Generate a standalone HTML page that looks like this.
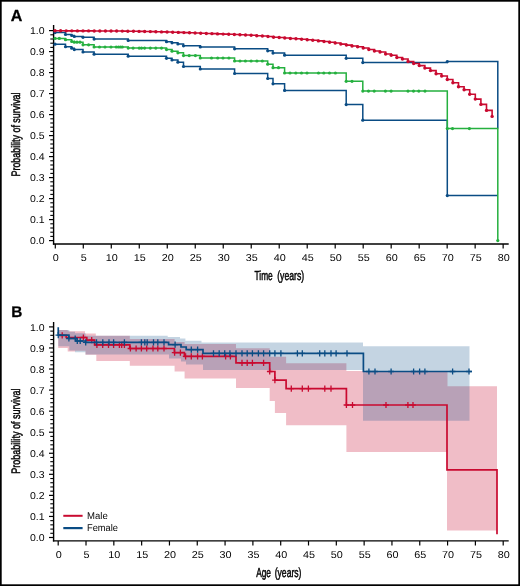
<!DOCTYPE html>
<html><head><meta charset="utf-8"><style>html,body{margin:0;padding:0;background:#fff;}svg{display:block;will-change:transform;}text{font-family:"Liberation Sans", sans-serif;fill:#050505;text-rendering:geometricPrecision;}.t{stroke:#050505;stroke-width:0.5px;}</style></head><body>
<svg width="520" height="586" viewBox="0 0 520 586">
<rect x="0" y="0" width="520" height="586" fill="#fff"/>
<text x="10.8" y="20.9" font-size="16" font-weight="bold" style="fill:#000;stroke:#000;stroke-width:0.3px">A</text>
<line x1="53.6" y1="25" x2="53.6" y2="244.6" stroke="#000" stroke-width="1.4"/>
<line x1="52.9" y1="244" x2="508.7" y2="244" stroke="#000" stroke-width="1.4"/>
<line x1="49" y1="240.6" x2="53.6" y2="240.6" stroke="#000" stroke-width="1.2"/>
<text transform="translate(44.6,244.2) scale(1.05,1)" text-anchor="end" font-size="10">0.0</text>
<line x1="50.3" y1="236.4" x2="53.6" y2="236.4" stroke="#000" stroke-width="1.1"/>
<line x1="50.3" y1="232.2" x2="53.6" y2="232.2" stroke="#000" stroke-width="1.1"/>
<line x1="50.3" y1="228" x2="53.6" y2="228" stroke="#000" stroke-width="1.1"/>
<line x1="50.3" y1="223.8" x2="53.6" y2="223.8" stroke="#000" stroke-width="1.1"/>
<line x1="49" y1="219.6" x2="53.6" y2="219.6" stroke="#000" stroke-width="1.2"/>
<text transform="translate(44.6,223.2) scale(1.05,1)" text-anchor="end" font-size="10">0.1</text>
<line x1="50.3" y1="215.4" x2="53.6" y2="215.4" stroke="#000" stroke-width="1.1"/>
<line x1="50.3" y1="211.2" x2="53.6" y2="211.2" stroke="#000" stroke-width="1.1"/>
<line x1="50.3" y1="207" x2="53.6" y2="207" stroke="#000" stroke-width="1.1"/>
<line x1="50.3" y1="202.8" x2="53.6" y2="202.8" stroke="#000" stroke-width="1.1"/>
<line x1="49" y1="198.6" x2="53.6" y2="198.6" stroke="#000" stroke-width="1.2"/>
<text transform="translate(44.6,202.2) scale(1.05,1)" text-anchor="end" font-size="10">0.2</text>
<line x1="50.3" y1="194.4" x2="53.6" y2="194.4" stroke="#000" stroke-width="1.1"/>
<line x1="50.3" y1="190.2" x2="53.6" y2="190.2" stroke="#000" stroke-width="1.1"/>
<line x1="50.3" y1="186" x2="53.6" y2="186" stroke="#000" stroke-width="1.1"/>
<line x1="50.3" y1="181.8" x2="53.6" y2="181.8" stroke="#000" stroke-width="1.1"/>
<line x1="49" y1="177.6" x2="53.6" y2="177.6" stroke="#000" stroke-width="1.2"/>
<text transform="translate(44.6,181.2) scale(1.05,1)" text-anchor="end" font-size="10">0.3</text>
<line x1="50.3" y1="173.4" x2="53.6" y2="173.4" stroke="#000" stroke-width="1.1"/>
<line x1="50.3" y1="169.2" x2="53.6" y2="169.2" stroke="#000" stroke-width="1.1"/>
<line x1="50.3" y1="165" x2="53.6" y2="165" stroke="#000" stroke-width="1.1"/>
<line x1="50.3" y1="160.8" x2="53.6" y2="160.8" stroke="#000" stroke-width="1.1"/>
<line x1="49" y1="156.6" x2="53.6" y2="156.6" stroke="#000" stroke-width="1.2"/>
<text transform="translate(44.6,160.2) scale(1.05,1)" text-anchor="end" font-size="10">0.4</text>
<line x1="50.3" y1="152.4" x2="53.6" y2="152.4" stroke="#000" stroke-width="1.1"/>
<line x1="50.3" y1="148.2" x2="53.6" y2="148.2" stroke="#000" stroke-width="1.1"/>
<line x1="50.3" y1="144" x2="53.6" y2="144" stroke="#000" stroke-width="1.1"/>
<line x1="50.3" y1="139.8" x2="53.6" y2="139.8" stroke="#000" stroke-width="1.1"/>
<line x1="49" y1="135.6" x2="53.6" y2="135.6" stroke="#000" stroke-width="1.2"/>
<text transform="translate(44.6,139.2) scale(1.05,1)" text-anchor="end" font-size="10">0.5</text>
<line x1="50.3" y1="131.4" x2="53.6" y2="131.4" stroke="#000" stroke-width="1.1"/>
<line x1="50.3" y1="127.2" x2="53.6" y2="127.2" stroke="#000" stroke-width="1.1"/>
<line x1="50.3" y1="123" x2="53.6" y2="123" stroke="#000" stroke-width="1.1"/>
<line x1="50.3" y1="118.8" x2="53.6" y2="118.8" stroke="#000" stroke-width="1.1"/>
<line x1="49" y1="114.6" x2="53.6" y2="114.6" stroke="#000" stroke-width="1.2"/>
<text transform="translate(44.6,118.2) scale(1.05,1)" text-anchor="end" font-size="10">0.6</text>
<line x1="50.3" y1="110.4" x2="53.6" y2="110.4" stroke="#000" stroke-width="1.1"/>
<line x1="50.3" y1="106.2" x2="53.6" y2="106.2" stroke="#000" stroke-width="1.1"/>
<line x1="50.3" y1="102" x2="53.6" y2="102" stroke="#000" stroke-width="1.1"/>
<line x1="50.3" y1="97.8" x2="53.6" y2="97.8" stroke="#000" stroke-width="1.1"/>
<line x1="49" y1="93.6" x2="53.6" y2="93.6" stroke="#000" stroke-width="1.2"/>
<text transform="translate(44.6,97.2) scale(1.05,1)" text-anchor="end" font-size="10">0.7</text>
<line x1="50.3" y1="89.4" x2="53.6" y2="89.4" stroke="#000" stroke-width="1.1"/>
<line x1="50.3" y1="85.2" x2="53.6" y2="85.2" stroke="#000" stroke-width="1.1"/>
<line x1="50.3" y1="81" x2="53.6" y2="81" stroke="#000" stroke-width="1.1"/>
<line x1="50.3" y1="76.8" x2="53.6" y2="76.8" stroke="#000" stroke-width="1.1"/>
<line x1="49" y1="72.6" x2="53.6" y2="72.6" stroke="#000" stroke-width="1.2"/>
<text transform="translate(44.6,76.2) scale(1.05,1)" text-anchor="end" font-size="10">0.8</text>
<line x1="50.3" y1="68.4" x2="53.6" y2="68.4" stroke="#000" stroke-width="1.1"/>
<line x1="50.3" y1="64.2" x2="53.6" y2="64.2" stroke="#000" stroke-width="1.1"/>
<line x1="50.3" y1="60" x2="53.6" y2="60" stroke="#000" stroke-width="1.1"/>
<line x1="50.3" y1="55.8" x2="53.6" y2="55.8" stroke="#000" stroke-width="1.1"/>
<line x1="49" y1="51.6" x2="53.6" y2="51.6" stroke="#000" stroke-width="1.2"/>
<text transform="translate(44.6,55.2) scale(1.05,1)" text-anchor="end" font-size="10">0.9</text>
<line x1="50.3" y1="47.4" x2="53.6" y2="47.4" stroke="#000" stroke-width="1.1"/>
<line x1="50.3" y1="43.2" x2="53.6" y2="43.2" stroke="#000" stroke-width="1.1"/>
<line x1="50.3" y1="39" x2="53.6" y2="39" stroke="#000" stroke-width="1.1"/>
<line x1="50.3" y1="34.8" x2="53.6" y2="34.8" stroke="#000" stroke-width="1.1"/>
<line x1="49" y1="30.6" x2="53.6" y2="30.6" stroke="#000" stroke-width="1.2"/>
<text transform="translate(44.6,34.2) scale(1.05,1)" text-anchor="end" font-size="10">1.0</text>
<line x1="55.3" y1="244" x2="55.3" y2="248.6" stroke="#000" stroke-width="1.2"/>
<text transform="translate(55.8,261) scale(1.08,1)" text-anchor="middle" font-size="10">0</text>
<line x1="83.29" y1="244" x2="83.29" y2="248.6" stroke="#000" stroke-width="1.2"/>
<text transform="translate(83.79,261) scale(1.08,1)" text-anchor="middle" font-size="10">5</text>
<line x1="111.28" y1="244" x2="111.28" y2="248.6" stroke="#000" stroke-width="1.2"/>
<text transform="translate(111.78,261) scale(1.08,1)" text-anchor="middle" font-size="10">10</text>
<line x1="139.27" y1="244" x2="139.27" y2="248.6" stroke="#000" stroke-width="1.2"/>
<text transform="translate(139.77,261) scale(1.08,1)" text-anchor="middle" font-size="10">15</text>
<line x1="167.26" y1="244" x2="167.26" y2="248.6" stroke="#000" stroke-width="1.2"/>
<text transform="translate(167.76,261) scale(1.08,1)" text-anchor="middle" font-size="10">20</text>
<line x1="195.25" y1="244" x2="195.25" y2="248.6" stroke="#000" stroke-width="1.2"/>
<text transform="translate(195.75,261) scale(1.08,1)" text-anchor="middle" font-size="10">25</text>
<line x1="223.24" y1="244" x2="223.24" y2="248.6" stroke="#000" stroke-width="1.2"/>
<text transform="translate(223.74,261) scale(1.08,1)" text-anchor="middle" font-size="10">30</text>
<line x1="251.23" y1="244" x2="251.23" y2="248.6" stroke="#000" stroke-width="1.2"/>
<text transform="translate(251.73,261) scale(1.08,1)" text-anchor="middle" font-size="10">35</text>
<line x1="279.22" y1="244" x2="279.22" y2="248.6" stroke="#000" stroke-width="1.2"/>
<text transform="translate(279.72,261) scale(1.08,1)" text-anchor="middle" font-size="10">40</text>
<line x1="307.21" y1="244" x2="307.21" y2="248.6" stroke="#000" stroke-width="1.2"/>
<text transform="translate(307.71,261) scale(1.08,1)" text-anchor="middle" font-size="10">45</text>
<line x1="335.2" y1="244" x2="335.2" y2="248.6" stroke="#000" stroke-width="1.2"/>
<text transform="translate(335.7,261) scale(1.08,1)" text-anchor="middle" font-size="10">50</text>
<line x1="363.19" y1="244" x2="363.19" y2="248.6" stroke="#000" stroke-width="1.2"/>
<text transform="translate(363.69,261) scale(1.08,1)" text-anchor="middle" font-size="10">55</text>
<line x1="391.18" y1="244" x2="391.18" y2="248.6" stroke="#000" stroke-width="1.2"/>
<text transform="translate(391.68,261) scale(1.08,1)" text-anchor="middle" font-size="10">60</text>
<line x1="419.17" y1="244" x2="419.17" y2="248.6" stroke="#000" stroke-width="1.2"/>
<text transform="translate(419.67,261) scale(1.08,1)" text-anchor="middle" font-size="10">65</text>
<line x1="447.16" y1="244" x2="447.16" y2="248.6" stroke="#000" stroke-width="1.2"/>
<text transform="translate(447.66,261) scale(1.08,1)" text-anchor="middle" font-size="10">70</text>
<line x1="475.15" y1="244" x2="475.15" y2="248.6" stroke="#000" stroke-width="1.2"/>
<text transform="translate(475.65,261) scale(1.08,1)" text-anchor="middle" font-size="10">75</text>
<line x1="503.14" y1="244" x2="503.14" y2="248.6" stroke="#000" stroke-width="1.2"/>
<text transform="translate(503.64,261) scale(1.08,1)" text-anchor="middle" font-size="10">80</text>
<text x="254.5" y="279.6" font-size="13" class="t" textLength="18.2" lengthAdjust="spacingAndGlyphs">Time</text>
<text x="277.2" y="279.6" font-size="13" class="t" textLength="27" lengthAdjust="spacingAndGlyphs">(years)</text>
<text transform="translate(20.2,134.5) rotate(-90)" x="0" y="0" text-anchor="middle" font-size="12.3" class="t" textLength="84" lengthAdjust="spacingAndGlyphs">Probability of survival</text>
<path d="M55 32.6H65.5V34.5H71.7V35.5H74.3V36.5H83V37.3H94.1V39.1H128.2V40.5H166.5V41.7H172V42.8H177.9V44H183.5V45.8H200.3V46.9H234.6V48.8H267.7V50.8H273V53.1H284.6V55.2H346.2V58.3H362.8V62.6H447.3V61.6H497.8V128.6" fill="none" stroke="#0a4c84" stroke-width="1.5"/>
<path d="M55 44.2H65.5V46.75H71.7V48.2H74.3V49.6H83V52H94.1V54.2H128.2V56.2H166.5V58.3H172V60H177.9V62.2H183.5V66.5H200.3V69H234.6V73.5H267.7V78.5H273V83.8H284.6V90.4H346.2V104.6H362.8V120.2H447.3V195.6H497.8" fill="none" stroke="#0a4c84" stroke-width="1.5"/>
<circle cx="55" cy="32.6" r="1.6" fill="#0a4c84"/><circle cx="65.5" cy="34.5" r="1.6" fill="#0a4c84"/><circle cx="71.7" cy="35.5" r="1.6" fill="#0a4c84"/><circle cx="74.3" cy="36.5" r="1.6" fill="#0a4c84"/><circle cx="83" cy="37.3" r="1.6" fill="#0a4c84"/><circle cx="94.1" cy="39.1" r="1.6" fill="#0a4c84"/><circle cx="128.2" cy="40.5" r="1.6" fill="#0a4c84"/><circle cx="166.5" cy="41.7" r="1.6" fill="#0a4c84"/><circle cx="172" cy="42.8" r="1.6" fill="#0a4c84"/><circle cx="177.9" cy="44" r="1.6" fill="#0a4c84"/><circle cx="183.5" cy="45.8" r="1.6" fill="#0a4c84"/><circle cx="200.3" cy="46.9" r="1.6" fill="#0a4c84"/><circle cx="234.6" cy="48.8" r="1.6" fill="#0a4c84"/><circle cx="267.7" cy="50.8" r="1.6" fill="#0a4c84"/><circle cx="273" cy="53.1" r="1.6" fill="#0a4c84"/><circle cx="284.6" cy="55.2" r="1.6" fill="#0a4c84"/><circle cx="346.2" cy="58.3" r="1.6" fill="#0a4c84"/><circle cx="362.8" cy="62.6" r="1.6" fill="#0a4c84"/><circle cx="447.3" cy="61.6" r="1.6" fill="#0a4c84"/><circle cx="55" cy="44.2" r="1.6" fill="#0a4c84"/><circle cx="65.5" cy="46.75" r="1.6" fill="#0a4c84"/><circle cx="71.7" cy="48.2" r="1.6" fill="#0a4c84"/><circle cx="74.3" cy="49.6" r="1.6" fill="#0a4c84"/><circle cx="83" cy="52" r="1.6" fill="#0a4c84"/><circle cx="94.1" cy="54.2" r="1.6" fill="#0a4c84"/><circle cx="128.2" cy="56.2" r="1.6" fill="#0a4c84"/><circle cx="166.5" cy="58.3" r="1.6" fill="#0a4c84"/><circle cx="172" cy="60" r="1.6" fill="#0a4c84"/><circle cx="177.9" cy="62.2" r="1.6" fill="#0a4c84"/><circle cx="183.5" cy="66.5" r="1.6" fill="#0a4c84"/><circle cx="200.3" cy="69" r="1.6" fill="#0a4c84"/><circle cx="234.6" cy="73.5" r="1.6" fill="#0a4c84"/><circle cx="267.7" cy="78.5" r="1.6" fill="#0a4c84"/><circle cx="273" cy="83.8" r="1.6" fill="#0a4c84"/><circle cx="284.6" cy="90.4" r="1.6" fill="#0a4c84"/><circle cx="346.2" cy="104.6" r="1.6" fill="#0a4c84"/><circle cx="362.8" cy="120.2" r="1.6" fill="#0a4c84"/><circle cx="447.3" cy="195.6" r="1.6" fill="#0a4c84"/>
<path d="M55 38.4H65.5V39.7H71.7V41.5H74.3V42.2H83V44.8H94.1V47H128.2V48.1H166.5V49.6H172V51.2H177.9V52.8H183.5V55.6H200.3V58H234.6V61H267.7V64.2H273V67.7H284.6V73H346.2V81.3H362.8V91.1H447.3V128.6H497.8V240.6" fill="none" stroke="#25b03f" stroke-width="1.5"/>
<circle cx="55" cy="38.4" r="1.6" fill="#25b03f"/><circle cx="65.5" cy="39.7" r="1.6" fill="#25b03f"/><circle cx="71.7" cy="41.5" r="1.6" fill="#25b03f"/><circle cx="74.3" cy="42.2" r="1.6" fill="#25b03f"/><circle cx="83" cy="44.8" r="1.6" fill="#25b03f"/><circle cx="94.1" cy="47" r="1.6" fill="#25b03f"/><circle cx="128.2" cy="48.1" r="1.6" fill="#25b03f"/><circle cx="166.5" cy="49.6" r="1.6" fill="#25b03f"/><circle cx="172" cy="51.2" r="1.6" fill="#25b03f"/><circle cx="177.9" cy="52.8" r="1.6" fill="#25b03f"/><circle cx="183.5" cy="55.6" r="1.6" fill="#25b03f"/><circle cx="200.3" cy="58" r="1.6" fill="#25b03f"/><circle cx="234.6" cy="61" r="1.6" fill="#25b03f"/><circle cx="267.7" cy="64.2" r="1.6" fill="#25b03f"/><circle cx="273" cy="67.7" r="1.6" fill="#25b03f"/><circle cx="284.6" cy="73" r="1.6" fill="#25b03f"/><circle cx="346.2" cy="81.3" r="1.6" fill="#25b03f"/><circle cx="362.8" cy="91.1" r="1.6" fill="#25b03f"/><circle cx="447.3" cy="128.6" r="1.6" fill="#25b03f"/><circle cx="497.8" cy="240.6" r="1.6" fill="#25b03f"/><circle cx="59.3" cy="38.4" r="1.6" fill="#25b03f"/><circle cx="77" cy="42.2" r="1.6" fill="#25b03f"/><circle cx="80" cy="42.2" r="1.6" fill="#25b03f"/><circle cx="88.6" cy="44.8" r="1.6" fill="#25b03f"/><circle cx="99.5" cy="47" r="1.6" fill="#25b03f"/><circle cx="105" cy="47" r="1.6" fill="#25b03f"/><circle cx="111" cy="47" r="1.6" fill="#25b03f"/><circle cx="116.2" cy="47" r="1.6" fill="#25b03f"/><circle cx="118.5" cy="47" r="1.6" fill="#25b03f"/><circle cx="120.5" cy="47" r="1.6" fill="#25b03f"/><circle cx="122.3" cy="47" r="1.6" fill="#25b03f"/><circle cx="133.1" cy="48.1" r="1.6" fill="#25b03f"/><circle cx="139.2" cy="48.1" r="1.6" fill="#25b03f"/><circle cx="141.5" cy="48.1" r="1.6" fill="#25b03f"/><circle cx="144.6" cy="48.1" r="1.6" fill="#25b03f"/><circle cx="150.3" cy="48.1" r="1.6" fill="#25b03f"/><circle cx="155.8" cy="48.1" r="1.6" fill="#25b03f"/><circle cx="161.5" cy="48.1" r="1.6" fill="#25b03f"/><circle cx="189.2" cy="55.6" r="1.6" fill="#25b03f"/><circle cx="195.4" cy="55.6" r="1.6" fill="#25b03f"/><circle cx="211.5" cy="58" r="1.6" fill="#25b03f"/><circle cx="217.7" cy="58" r="1.6" fill="#25b03f"/><circle cx="223" cy="58" r="1.6" fill="#25b03f"/><circle cx="228.9" cy="58" r="1.6" fill="#25b03f"/><circle cx="240" cy="61" r="1.6" fill="#25b03f"/><circle cx="245.4" cy="61" r="1.6" fill="#25b03f"/><circle cx="251.1" cy="61" r="1.6" fill="#25b03f"/><circle cx="256.9" cy="61" r="1.6" fill="#25b03f"/><circle cx="262.3" cy="61" r="1.6" fill="#25b03f"/><circle cx="278.5" cy="67.7" r="1.6" fill="#25b03f"/><circle cx="290" cy="73" r="1.6" fill="#25b03f"/><circle cx="295.8" cy="73" r="1.6" fill="#25b03f"/><circle cx="301.5" cy="73" r="1.6" fill="#25b03f"/><circle cx="307" cy="73" r="1.6" fill="#25b03f"/><circle cx="318.5" cy="73" r="1.6" fill="#25b03f"/><circle cx="323.8" cy="73" r="1.6" fill="#25b03f"/><circle cx="329.5" cy="73" r="1.6" fill="#25b03f"/><circle cx="335.4" cy="73" r="1.6" fill="#25b03f"/><circle cx="352" cy="81.3" r="1.6" fill="#25b03f"/><circle cx="368.5" cy="91.1" r="1.6" fill="#25b03f"/><circle cx="374.2" cy="91.1" r="1.6" fill="#25b03f"/><circle cx="385.4" cy="91.1" r="1.6" fill="#25b03f"/><circle cx="391.1" cy="91.1" r="1.6" fill="#25b03f"/><circle cx="408" cy="91.1" r="1.6" fill="#25b03f"/><circle cx="413.5" cy="91.1" r="1.6" fill="#25b03f"/><circle cx="418.8" cy="91.1" r="1.6" fill="#25b03f"/><circle cx="425" cy="91.1" r="1.6" fill="#25b03f"/><circle cx="452.5" cy="128.6" r="1.6" fill="#25b03f"/><circle cx="469.4" cy="128.6" r="1.6" fill="#25b03f"/>
<path d="M55 30.8H60.6V30.82H66.21V30.84H71.81V30.86H77.42V30.88H83.02V30.9H88.62V30.92H94.23V30.94H99.83V30.96H105.44V30.98H111.04V31H116.64V31.06H122.25V31.12H127.85V31.19H133.46V31.25H139.06V31.38H144.66V31.5H150.27V31.62H155.87V31.75H161.48V31.88H167.08V32H172.68V32.2H178.29V32.4H183.89V32.6H189.5V32.8H195.1V33.02H200.7V33.23H206.31V33.45H211.91V33.67H217.52V33.88H223.12V34.1H228.72V34.32H234.33V34.54H239.93V34.76H245.54V34.98H251.14V35.2H256.74V35.7H262.35V36H267.95V36.5H273.56V37.2H279.16V37.5H284.76V38H290.37V38.5H295.97V38.8H301.58V39.2H307.18V39.7H312.78V40.3H318.39V40.9H323.99V41.45H329.6V42.2H335.2V43H340.8V44.1H346.41V45.1H352.01V46H357.62V46.75H363.22V48H368.82V49.5H374.43V51H380.03V52H385.64V54H391.24V55.25H396.84V57.5H402.45V59H408.05V61.5H413.66V63.5H419.26V65.6H424.86V68.1H430.47V70.6H436.07V73.75H441.68V76H447.28V79.5H452.88V82.7H458.49V86.7H464.09V89.8H469.7V94.2H475.3V99.1H480.9V104.4H486.51V110.4H492.11V116.4" fill="none" stroke="#c90a30" stroke-width="1.6"/>
<circle cx="55" cy="30.8" r="1.7" fill="#c90a30"/><circle cx="60.6" cy="30.82" r="1.7" fill="#c90a30"/><circle cx="66.21" cy="30.84" r="1.7" fill="#c90a30"/><circle cx="71.81" cy="30.86" r="1.7" fill="#c90a30"/><circle cx="77.42" cy="30.88" r="1.7" fill="#c90a30"/><circle cx="83.02" cy="30.9" r="1.7" fill="#c90a30"/><circle cx="88.62" cy="30.92" r="1.7" fill="#c90a30"/><circle cx="94.23" cy="30.94" r="1.7" fill="#c90a30"/><circle cx="99.83" cy="30.96" r="1.7" fill="#c90a30"/><circle cx="105.44" cy="30.98" r="1.7" fill="#c90a30"/><circle cx="111.04" cy="31" r="1.7" fill="#c90a30"/><circle cx="116.64" cy="31.06" r="1.7" fill="#c90a30"/><circle cx="122.25" cy="31.12" r="1.7" fill="#c90a30"/><circle cx="127.85" cy="31.19" r="1.7" fill="#c90a30"/><circle cx="133.46" cy="31.25" r="1.7" fill="#c90a30"/><circle cx="139.06" cy="31.38" r="1.7" fill="#c90a30"/><circle cx="144.66" cy="31.5" r="1.7" fill="#c90a30"/><circle cx="150.27" cy="31.62" r="1.7" fill="#c90a30"/><circle cx="155.87" cy="31.75" r="1.7" fill="#c90a30"/><circle cx="161.48" cy="31.88" r="1.7" fill="#c90a30"/><circle cx="167.08" cy="32" r="1.7" fill="#c90a30"/><circle cx="172.68" cy="32.2" r="1.7" fill="#c90a30"/><circle cx="178.29" cy="32.4" r="1.7" fill="#c90a30"/><circle cx="183.89" cy="32.6" r="1.7" fill="#c90a30"/><circle cx="189.5" cy="32.8" r="1.7" fill="#c90a30"/><circle cx="195.1" cy="33.02" r="1.7" fill="#c90a30"/><circle cx="200.7" cy="33.23" r="1.7" fill="#c90a30"/><circle cx="206.31" cy="33.45" r="1.7" fill="#c90a30"/><circle cx="211.91" cy="33.67" r="1.7" fill="#c90a30"/><circle cx="217.52" cy="33.88" r="1.7" fill="#c90a30"/><circle cx="223.12" cy="34.1" r="1.7" fill="#c90a30"/><circle cx="228.72" cy="34.32" r="1.7" fill="#c90a30"/><circle cx="234.33" cy="34.54" r="1.7" fill="#c90a30"/><circle cx="239.93" cy="34.76" r="1.7" fill="#c90a30"/><circle cx="245.54" cy="34.98" r="1.7" fill="#c90a30"/><circle cx="251.14" cy="35.2" r="1.7" fill="#c90a30"/><circle cx="256.74" cy="35.7" r="1.7" fill="#c90a30"/><circle cx="262.35" cy="36" r="1.7" fill="#c90a30"/><circle cx="267.95" cy="36.5" r="1.7" fill="#c90a30"/><circle cx="273.56" cy="37.2" r="1.7" fill="#c90a30"/><circle cx="279.16" cy="37.5" r="1.7" fill="#c90a30"/><circle cx="284.76" cy="38" r="1.7" fill="#c90a30"/><circle cx="290.37" cy="38.5" r="1.7" fill="#c90a30"/><circle cx="295.97" cy="38.8" r="1.7" fill="#c90a30"/><circle cx="301.58" cy="39.2" r="1.7" fill="#c90a30"/><circle cx="307.18" cy="39.7" r="1.7" fill="#c90a30"/><circle cx="312.78" cy="40.3" r="1.7" fill="#c90a30"/><circle cx="318.39" cy="40.9" r="1.7" fill="#c90a30"/><circle cx="323.99" cy="41.45" r="1.7" fill="#c90a30"/><circle cx="329.6" cy="42.2" r="1.7" fill="#c90a30"/><circle cx="335.2" cy="43" r="1.7" fill="#c90a30"/><circle cx="340.8" cy="44.1" r="1.7" fill="#c90a30"/><circle cx="346.41" cy="45.1" r="1.7" fill="#c90a30"/><circle cx="352.01" cy="46" r="1.7" fill="#c90a30"/><circle cx="357.62" cy="46.75" r="1.7" fill="#c90a30"/><circle cx="363.22" cy="48" r="1.7" fill="#c90a30"/><circle cx="368.82" cy="49.5" r="1.7" fill="#c90a30"/><circle cx="374.43" cy="51" r="1.7" fill="#c90a30"/><circle cx="380.03" cy="52" r="1.7" fill="#c90a30"/><circle cx="385.64" cy="54" r="1.7" fill="#c90a30"/><circle cx="391.24" cy="55.25" r="1.7" fill="#c90a30"/><circle cx="396.84" cy="57.5" r="1.7" fill="#c90a30"/><circle cx="402.45" cy="59" r="1.7" fill="#c90a30"/><circle cx="408.05" cy="61.5" r="1.7" fill="#c90a30"/><circle cx="413.66" cy="63.5" r="1.7" fill="#c90a30"/><circle cx="419.26" cy="65.6" r="1.7" fill="#c90a30"/><circle cx="424.86" cy="68.1" r="1.7" fill="#c90a30"/><circle cx="430.47" cy="70.6" r="1.7" fill="#c90a30"/><circle cx="436.07" cy="73.75" r="1.7" fill="#c90a30"/><circle cx="441.68" cy="76" r="1.7" fill="#c90a30"/><circle cx="447.28" cy="79.5" r="1.7" fill="#c90a30"/><circle cx="452.88" cy="82.7" r="1.7" fill="#c90a30"/><circle cx="458.49" cy="86.7" r="1.7" fill="#c90a30"/><circle cx="464.09" cy="89.8" r="1.7" fill="#c90a30"/><circle cx="469.7" cy="94.2" r="1.7" fill="#c90a30"/><circle cx="475.3" cy="99.1" r="1.7" fill="#c90a30"/><circle cx="480.9" cy="104.4" r="1.7" fill="#c90a30"/><circle cx="486.51" cy="110.4" r="1.7" fill="#c90a30"/><circle cx="492.11" cy="116.4" r="1.7" fill="#c90a30"/>
<text x="11.3" y="317.4" font-size="15.4" font-weight="bold" style="fill:#000;stroke:#000;stroke-width:0.25px">B</text>
<line x1="53.6" y1="322" x2="53.6" y2="541.5" stroke="#000" stroke-width="1.4"/>
<line x1="52.9" y1="540.9" x2="508.7" y2="540.9" stroke="#000" stroke-width="1.4"/>
<line x1="49" y1="537.5" x2="53.6" y2="537.5" stroke="#000" stroke-width="1.2"/>
<text transform="translate(44.6,541.1) scale(1.05,1)" text-anchor="end" font-size="10">0.0</text>
<line x1="50.3" y1="533.29" x2="53.6" y2="533.29" stroke="#000" stroke-width="1.1"/>
<line x1="50.3" y1="529.08" x2="53.6" y2="529.08" stroke="#000" stroke-width="1.1"/>
<line x1="50.3" y1="524.86" x2="53.6" y2="524.86" stroke="#000" stroke-width="1.1"/>
<line x1="50.3" y1="520.65" x2="53.6" y2="520.65" stroke="#000" stroke-width="1.1"/>
<line x1="49" y1="516.44" x2="53.6" y2="516.44" stroke="#000" stroke-width="1.2"/>
<text transform="translate(44.6,520.04) scale(1.05,1)" text-anchor="end" font-size="10">0.1</text>
<line x1="50.3" y1="512.23" x2="53.6" y2="512.23" stroke="#000" stroke-width="1.1"/>
<line x1="50.3" y1="508.02" x2="53.6" y2="508.02" stroke="#000" stroke-width="1.1"/>
<line x1="50.3" y1="503.8" x2="53.6" y2="503.8" stroke="#000" stroke-width="1.1"/>
<line x1="50.3" y1="499.59" x2="53.6" y2="499.59" stroke="#000" stroke-width="1.1"/>
<line x1="49" y1="495.38" x2="53.6" y2="495.38" stroke="#000" stroke-width="1.2"/>
<text transform="translate(44.6,498.98) scale(1.05,1)" text-anchor="end" font-size="10">0.2</text>
<line x1="50.3" y1="491.17" x2="53.6" y2="491.17" stroke="#000" stroke-width="1.1"/>
<line x1="50.3" y1="486.96" x2="53.6" y2="486.96" stroke="#000" stroke-width="1.1"/>
<line x1="50.3" y1="482.74" x2="53.6" y2="482.74" stroke="#000" stroke-width="1.1"/>
<line x1="50.3" y1="478.53" x2="53.6" y2="478.53" stroke="#000" stroke-width="1.1"/>
<line x1="49" y1="474.32" x2="53.6" y2="474.32" stroke="#000" stroke-width="1.2"/>
<text transform="translate(44.6,477.92) scale(1.05,1)" text-anchor="end" font-size="10">0.3</text>
<line x1="50.3" y1="470.11" x2="53.6" y2="470.11" stroke="#000" stroke-width="1.1"/>
<line x1="50.3" y1="465.9" x2="53.6" y2="465.9" stroke="#000" stroke-width="1.1"/>
<line x1="50.3" y1="461.68" x2="53.6" y2="461.68" stroke="#000" stroke-width="1.1"/>
<line x1="50.3" y1="457.47" x2="53.6" y2="457.47" stroke="#000" stroke-width="1.1"/>
<line x1="49" y1="453.26" x2="53.6" y2="453.26" stroke="#000" stroke-width="1.2"/>
<text transform="translate(44.6,456.86) scale(1.05,1)" text-anchor="end" font-size="10">0.4</text>
<line x1="50.3" y1="449.05" x2="53.6" y2="449.05" stroke="#000" stroke-width="1.1"/>
<line x1="50.3" y1="444.84" x2="53.6" y2="444.84" stroke="#000" stroke-width="1.1"/>
<line x1="50.3" y1="440.62" x2="53.6" y2="440.62" stroke="#000" stroke-width="1.1"/>
<line x1="50.3" y1="436.41" x2="53.6" y2="436.41" stroke="#000" stroke-width="1.1"/>
<line x1="49" y1="432.2" x2="53.6" y2="432.2" stroke="#000" stroke-width="1.2"/>
<text transform="translate(44.6,435.8) scale(1.05,1)" text-anchor="end" font-size="10">0.5</text>
<line x1="50.3" y1="427.99" x2="53.6" y2="427.99" stroke="#000" stroke-width="1.1"/>
<line x1="50.3" y1="423.78" x2="53.6" y2="423.78" stroke="#000" stroke-width="1.1"/>
<line x1="50.3" y1="419.56" x2="53.6" y2="419.56" stroke="#000" stroke-width="1.1"/>
<line x1="50.3" y1="415.35" x2="53.6" y2="415.35" stroke="#000" stroke-width="1.1"/>
<line x1="49" y1="411.14" x2="53.6" y2="411.14" stroke="#000" stroke-width="1.2"/>
<text transform="translate(44.6,414.74) scale(1.05,1)" text-anchor="end" font-size="10">0.6</text>
<line x1="50.3" y1="406.93" x2="53.6" y2="406.93" stroke="#000" stroke-width="1.1"/>
<line x1="50.3" y1="402.72" x2="53.6" y2="402.72" stroke="#000" stroke-width="1.1"/>
<line x1="50.3" y1="398.5" x2="53.6" y2="398.5" stroke="#000" stroke-width="1.1"/>
<line x1="50.3" y1="394.29" x2="53.6" y2="394.29" stroke="#000" stroke-width="1.1"/>
<line x1="49" y1="390.08" x2="53.6" y2="390.08" stroke="#000" stroke-width="1.2"/>
<text transform="translate(44.6,393.68) scale(1.05,1)" text-anchor="end" font-size="10">0.7</text>
<line x1="50.3" y1="385.87" x2="53.6" y2="385.87" stroke="#000" stroke-width="1.1"/>
<line x1="50.3" y1="381.66" x2="53.6" y2="381.66" stroke="#000" stroke-width="1.1"/>
<line x1="50.3" y1="377.44" x2="53.6" y2="377.44" stroke="#000" stroke-width="1.1"/>
<line x1="50.3" y1="373.23" x2="53.6" y2="373.23" stroke="#000" stroke-width="1.1"/>
<line x1="49" y1="369.02" x2="53.6" y2="369.02" stroke="#000" stroke-width="1.2"/>
<text transform="translate(44.6,372.62) scale(1.05,1)" text-anchor="end" font-size="10">0.8</text>
<line x1="50.3" y1="364.81" x2="53.6" y2="364.81" stroke="#000" stroke-width="1.1"/>
<line x1="50.3" y1="360.6" x2="53.6" y2="360.6" stroke="#000" stroke-width="1.1"/>
<line x1="50.3" y1="356.38" x2="53.6" y2="356.38" stroke="#000" stroke-width="1.1"/>
<line x1="50.3" y1="352.17" x2="53.6" y2="352.17" stroke="#000" stroke-width="1.1"/>
<line x1="49" y1="347.96" x2="53.6" y2="347.96" stroke="#000" stroke-width="1.2"/>
<text transform="translate(44.6,351.56) scale(1.05,1)" text-anchor="end" font-size="10">0.9</text>
<line x1="50.3" y1="343.75" x2="53.6" y2="343.75" stroke="#000" stroke-width="1.1"/>
<line x1="50.3" y1="339.54" x2="53.6" y2="339.54" stroke="#000" stroke-width="1.1"/>
<line x1="50.3" y1="335.32" x2="53.6" y2="335.32" stroke="#000" stroke-width="1.1"/>
<line x1="50.3" y1="331.11" x2="53.6" y2="331.11" stroke="#000" stroke-width="1.1"/>
<line x1="49" y1="326.9" x2="53.6" y2="326.9" stroke="#000" stroke-width="1.2"/>
<text transform="translate(44.6,330.5) scale(1.05,1)" text-anchor="end" font-size="10">1.0</text>
<line x1="58.2" y1="540.9" x2="58.2" y2="545.5" stroke="#000" stroke-width="1.2"/>
<text transform="translate(58.7,557.9) scale(1.08,1)" text-anchor="middle" font-size="10">0</text>
<line x1="86.01" y1="540.9" x2="86.01" y2="545.5" stroke="#000" stroke-width="1.2"/>
<text transform="translate(86.51,557.9) scale(1.08,1)" text-anchor="middle" font-size="10">5</text>
<line x1="113.83" y1="540.9" x2="113.83" y2="545.5" stroke="#000" stroke-width="1.2"/>
<text transform="translate(114.33,557.9) scale(1.08,1)" text-anchor="middle" font-size="10">10</text>
<line x1="141.64" y1="540.9" x2="141.64" y2="545.5" stroke="#000" stroke-width="1.2"/>
<text transform="translate(142.14,557.9) scale(1.08,1)" text-anchor="middle" font-size="10">15</text>
<line x1="169.45" y1="540.9" x2="169.45" y2="545.5" stroke="#000" stroke-width="1.2"/>
<text transform="translate(169.95,557.9) scale(1.08,1)" text-anchor="middle" font-size="10">20</text>
<line x1="197.26" y1="540.9" x2="197.26" y2="545.5" stroke="#000" stroke-width="1.2"/>
<text transform="translate(197.76,557.9) scale(1.08,1)" text-anchor="middle" font-size="10">25</text>
<line x1="225.07" y1="540.9" x2="225.07" y2="545.5" stroke="#000" stroke-width="1.2"/>
<text transform="translate(225.57,557.9) scale(1.08,1)" text-anchor="middle" font-size="10">30</text>
<line x1="252.89" y1="540.9" x2="252.89" y2="545.5" stroke="#000" stroke-width="1.2"/>
<text transform="translate(253.39,557.9) scale(1.08,1)" text-anchor="middle" font-size="10">35</text>
<line x1="280.7" y1="540.9" x2="280.7" y2="545.5" stroke="#000" stroke-width="1.2"/>
<text transform="translate(281.2,557.9) scale(1.08,1)" text-anchor="middle" font-size="10">40</text>
<line x1="308.51" y1="540.9" x2="308.51" y2="545.5" stroke="#000" stroke-width="1.2"/>
<text transform="translate(309.01,557.9) scale(1.08,1)" text-anchor="middle" font-size="10">45</text>
<line x1="336.32" y1="540.9" x2="336.32" y2="545.5" stroke="#000" stroke-width="1.2"/>
<text transform="translate(336.82,557.9) scale(1.08,1)" text-anchor="middle" font-size="10">50</text>
<line x1="364.14" y1="540.9" x2="364.14" y2="545.5" stroke="#000" stroke-width="1.2"/>
<text transform="translate(364.64,557.9) scale(1.08,1)" text-anchor="middle" font-size="10">55</text>
<line x1="391.95" y1="540.9" x2="391.95" y2="545.5" stroke="#000" stroke-width="1.2"/>
<text transform="translate(392.45,557.9) scale(1.08,1)" text-anchor="middle" font-size="10">60</text>
<line x1="419.76" y1="540.9" x2="419.76" y2="545.5" stroke="#000" stroke-width="1.2"/>
<text transform="translate(420.26,557.9) scale(1.08,1)" text-anchor="middle" font-size="10">65</text>
<line x1="447.57" y1="540.9" x2="447.57" y2="545.5" stroke="#000" stroke-width="1.2"/>
<text transform="translate(448.07,557.9) scale(1.08,1)" text-anchor="middle" font-size="10">70</text>
<line x1="475.39" y1="540.9" x2="475.39" y2="545.5" stroke="#000" stroke-width="1.2"/>
<text transform="translate(475.89,557.9) scale(1.08,1)" text-anchor="middle" font-size="10">75</text>
<line x1="503.2" y1="540.9" x2="503.2" y2="545.5" stroke="#000" stroke-width="1.2"/>
<text transform="translate(503.7,557.9) scale(1.08,1)" text-anchor="middle" font-size="10">80</text>
<text x="256.2" y="576.5" font-size="13" class="t" textLength="14.8" lengthAdjust="spacingAndGlyphs">Age</text>
<text x="274.7" y="576.5" font-size="13" class="t" textLength="26.8" lengthAdjust="spacingAndGlyphs">(years)</text>
<text transform="translate(20.4,431.1) rotate(-90)" x="0" y="0" text-anchor="middle" font-size="12.3" class="t" textLength="85.4" lengthAdjust="spacingAndGlyphs">Probability of survival</text>
<polygon points="58.2,330.1 67.7,330.1 67.7,331.3 85,331.3 85,333.5 95.8,333.5 95.8,335.8 129.8,335.8 129.8,339 174.6,339 174.6,342 184.6,342 184.6,344 236,344 236,348.2 269.7,348.2 269.7,356.8 286.1,356.8 286.1,363.2 346.4,363.2 346.4,370.9 447.5,370.9 447.5,386.2 497,386.2 497,530.4 447,530.4 447,452 346.4,452 346.4,425.3 286.1,425.3 286.1,413 274.9,413 274.9,401 269.7,401 269.7,388 236,388 236,378.4 184.6,378.4 184.6,371.5 174.6,371.5 174.6,365.7 129.8,365.7 129.8,360.9 96.3,360.9 96.3,354.7 85.5,354.7 85.5,350.8 75.2,350.8 75.2,351.4 67.7,351.4 67.7,348 58.2,348" fill="rgba(201,10,48,0.27)"/>
<polygon points="58.25,330.1 69.3,330.1 69.3,331.8 75,331.8 75,333.3 85.5,333.3 85.5,335.8 167.7,335.8 167.7,336.9 180,336.9 180,338.5 185.4,338.5 185.4,340.8 201.5,340.8 201.5,342.5 363,342.5 363,346.3 469.5,346.3 469.5,420.7 363,420.7 363,370.1 203,370.1 203,364.6 186,364.6 186,361.5 181,361.5 181,358.5 169,358.5 169,354.5 85.5,354.5 85.5,352.2 75,352.2 75,350.5 69.3,350.5 69.3,346.2 58.25,346.2" fill="rgba(10,76,132,0.24)"/>
<path d="M58.2 335.3H66.2V337.5H86.8V340.1H94.6V344.8H129.8V348.5H174.4V352.6H184.4V356.4H236V362.9H269.7V371.5H274.9V380.2H286.1V388.6H346.4V405H447V469.8H497V534.3" fill="none" stroke="#c90a30" stroke-width="1.7"/>
<path d="M62.2 332.2V338.4M59.4 335.3H65M83.4 334.4V340.6M80.6 337.5H86.2M91.7 337V343.2M88.9 340.1H94.5M96.9 341.7V347.9M94.1 344.8H99.7M102.7 341.7V347.9M99.9 344.8H105.5M108.5 341.7V347.9M105.7 344.8H111.3M113.6 341.7V347.9M110.8 344.8H116.4M119.4 341.7V347.9M116.6 344.8H122.2M121.7 341.7V347.9M118.9 344.8H124.5M124.4 341.7V347.9M121.6 344.8H127.2M130.4 345.4V351.6M127.6 348.5H133.2M136.1 345.4V351.6M133.3 348.5H138.9M141.4 345.4V351.6M138.6 348.5H144.2M146.7 345.4V351.6M143.9 348.5H149.5M153 345.4V351.6M150.2 348.5H155.8M157.8 345.4V351.6M155 348.5H160.6M164 345.4V351.6M161.2 348.5H166.8M174.6 349.5V355.7M171.8 352.6H177.4M180.4 349.5V355.7M177.6 352.6H183.2M185.6 353.3V359.5M182.8 356.4H188.4M191.3 353.3V359.5M188.5 356.4H194.1M197.6 353.3V359.5M194.8 356.4H200.4M202.4 353.3V359.5M199.6 356.4H205.2M225.6 353.3V359.5M222.8 356.4H228.4M230.4 353.3V359.5M227.6 356.4H233.2M242 359.8V366M239.2 362.9H244.8M247.2 359.8V366M244.4 362.9H250M252.4 359.8V366M249.6 362.9H255.2M263.6 359.8V366M260.8 362.9H266.4M269.7 368.4V374.6M266.9 371.5H272.5M274.9 377.1V383.3M272.1 380.2H277.7M291.3 385.5V391.7M288.5 388.6H294.1M302.3 385.5V391.7M299.5 388.6H305.1M308.4 385.5V391.7M305.6 388.6H311.2M324.8 385.5V391.7M322 388.6H327.6M331 385.5V391.7M328.2 388.6H333.8M346.4 401.9V408.1M343.6 405H349.2M352.5 401.9V408.1M349.7 405H355.3M386 401.9V408.1M383.2 405H388.8M407.9 401.9V408.1M405.1 405H410.7M413 401.9V408.1M410.2 405H415.8" fill="none" stroke="#c90a30" stroke-width="1.3"/>
<path d="M58.25 327.3V335.2H68.9V338.5H75.8V341H85.6V342.4H168.6V344.6H181V347H186.2V349.7H203V353.3H363.4V371.5H472" fill="none" stroke="#0a4c84" stroke-width="1.7"/>
<path d="M58.25 332.1V338.3M55.45 335.2H61.05M68.9 335.4V341.6M66.1 338.5H71.7M75.2 335.4V341.6M72.4 338.5H78M77.3 337.9V344.1M74.5 341H80.1M80.2 337.9V344.1M77.4 341H83M85.7 339.3V345.5M82.9 342.4H88.5M96.5 339.3V345.5M93.7 342.4H99.3M102.8 339.3V345.5M100 342.4H105.6M109 339.3V345.5M106.2 342.4H111.8M113.6 339.3V345.5M110.8 342.4H116.4M124.4 339.3V345.5M121.6 342.4H127.2M141.4 339.3V345.5M138.6 342.4H144.2M144.8 339.3V345.5M142 342.4H147.6M147.2 339.3V345.5M144.4 342.4H150M153.5 339.3V345.5M150.7 342.4H156.3M157.8 339.3V345.5M155 342.4H160.6M164 339.3V345.5M161.2 342.4H166.8M175.1 341.5V347.7M172.3 344.6H177.9M191.3 346.6V352.8M188.5 349.7H194.1M197.6 346.6V352.8M194.8 349.7H200.4M213.5 350.2V356.4M210.7 353.3H216.3M219.2 350.2V356.4M216.4 353.3H222M224.7 350.2V356.4M221.9 353.3H227.5M229.9 350.2V356.4M227.1 353.3H232.7M236 350.2V356.4M233.2 353.3H238.8M242 350.2V356.4M239.2 353.3H244.8M247.2 350.2V356.4M244.4 353.3H250M252.4 350.2V356.4M249.6 353.3H255.2M258.4 350.2V356.4M255.6 353.3H261.2M263.6 350.2V356.4M260.8 353.3H266.4M269.7 350.2V356.4M266.9 353.3H272.5M274.9 350.2V356.4M272.1 353.3H277.7M280.9 350.2V356.4M278.1 353.3H283.7M297.4 350.2V356.4M294.6 353.3H300.2M302.3 350.2V356.4M299.5 353.3H305.1M319.7 350.2V356.4M316.9 353.3H322.5M324.8 350.2V356.4M322 353.3H327.6M331 350.2V356.4M328.2 353.3H333.8M336.1 350.2V356.4M333.3 353.3H338.9M347 350.2V356.4M344.2 353.3H349.8M368.9 368.4V374.6M366.1 371.5H371.7M375 368.4V374.6M372.2 371.5H377.8M391.1 368.4V374.6M388.3 371.5H393.9M413.6 368.4V374.6M410.8 371.5H416.4M419.6 368.4V374.6M416.8 371.5H422.4M424.9 368.4V374.6M422.1 371.5H427.7M452.6 368.4V374.6M449.8 371.5H455.4M469 368.4V374.6M466.2 371.5H471.8" fill="none" stroke="#0a4c84" stroke-width="1.3"/>
<line x1="63.3" y1="515.8" x2="82.6" y2="515.8" stroke="#c90a30" stroke-width="2.0"/>
<line x1="63.3" y1="528.1" x2="82.6" y2="528.1" stroke="#0a4c84" stroke-width="2.2"/>
<text x="87" y="518.9" font-size="9.8" textLength="20.7" lengthAdjust="spacingAndGlyphs">Male</text>
<text x="87" y="531.3" font-size="9.8" textLength="31.0" lengthAdjust="spacingAndGlyphs">Female</text>
<rect x="0.85" y="0.85" width="518.3" height="584.3" fill="none" stroke="#000" stroke-width="1.7"/>
</svg></body></html>
